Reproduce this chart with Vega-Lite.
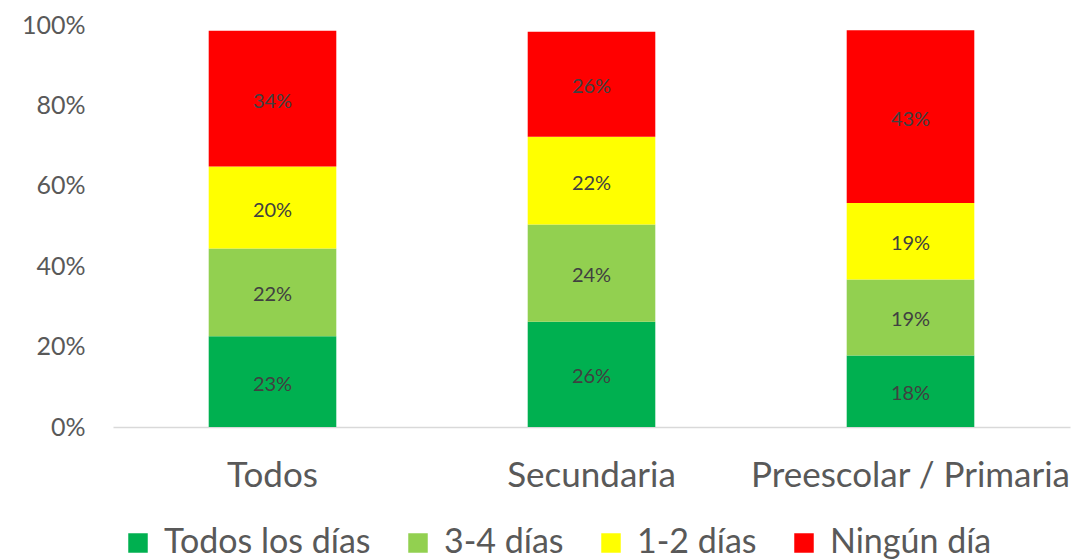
{
  "$schema": "https://vega.github.io/schema/vega-lite/v6.json",
  "width": 957,
  "height": 402,
  "autosize": "none",
  "padding": {"left": 113, "top": 25, "right": 4, "bottom": 133},
  "background": "white",
  "config": {
    "view": {"stroke": null},
    "font": "Lato"
  },
  "data": {
    "values": [
      {"grupo": "Todos", "categoria": "Todos los días", "orden": 1, "valor": 0.226},
      {"grupo": "Todos", "categoria": "3-4 días", "orden": 2, "valor": 0.218},
      {"grupo": "Todos", "categoria": "1-2 días", "orden": 3, "valor": 0.204},
      {"grupo": "Todos", "categoria": "Ningún día", "orden": 4, "valor": 0.338},
      {"grupo": "Secundaria", "categoria": "Todos los días", "orden": 1, "valor": 0.262},
      {"grupo": "Secundaria", "categoria": "3-4 días", "orden": 2, "valor": 0.242},
      {"grupo": "Secundaria", "categoria": "1-2 días", "orden": 3, "valor": 0.218},
      {"grupo": "Secundaria", "categoria": "Ningún día", "orden": 4, "valor": 0.261},
      {"grupo": "Preescolar / Primaria", "categoria": "Todos los días", "orden": 1, "valor": 0.178},
      {"grupo": "Preescolar / Primaria", "categoria": "3-4 días", "orden": 2, "valor": 0.189},
      {"grupo": "Preescolar / Primaria", "categoria": "1-2 días", "orden": 3, "valor": 0.190},
      {"grupo": "Preescolar / Primaria", "categoria": "Ningún día", "orden": 4, "valor": 0.430}
    ]
  },
  "transform": [
    {"stack": "valor", "groupby": ["grupo"], "sort": [{"field": "orden", "order": "ascending"}], "as": ["v0", "v1"]},
    {"calculate": "(datum.v0 + datum.v1) / 2", "as": "vm"}
  ],
  "encoding": {
    "x": {
      "field": "grupo",
      "type": "nominal",
      "sort": ["Todos", "Secundaria", "Preescolar / Primaria"],
      "scale": {"paddingInner": 0.6, "paddingOuter": 0.3},
      "axis": {
        "title": null,
        "labelAngle": 0,
        "labelFontSize": 35,
        "labelColor": "#595959",
        "labelPadding": 31,
        "labelLimit": 500,
        "ticks": false,
        "domainColor": "#D9D9D9",
        "domainWidth": 1.5,
        "grid": false
      }
    }
  },
  "layer": [
    {
      "mark": {"type": "bar"},
      "encoding": {
        "y": {
          "field": "v0",
          "type": "quantitative",
          "scale": {"domain": [0, 1], "nice": false},
          "axis": {
            "title": null,
            "format": ".0%",
            "values": [0, 0.2, 0.4, 0.6, 0.8, 1],
            "labelFontSize": 25,
            "labelColor": "#595959",
            "labelPadding": 28,
            "ticks": false,
            "domain": false,
            "grid": false
          }
        },
        "y2": {"field": "v1"},
        "color": {
          "field": "categoria",
          "type": "nominal",
          "scale": {
            "domain": ["Todos los días", "3-4 días", "1-2 días", "Ningún día"],
            "range": ["#00B050", "#92D050", "#FFFF00", "#FF0000"]
          },
          "legend": {
            "title": null,
            "orient": "none",
            "direction": "horizontal",
            "legendX": 8,
            "legendY": 501,
            "symbolType": "square",
            "symbolSize": 380,
            "symbolStrokeWidth": 0,
            "labelFontSize": 34,
            "labelColor": "#595959",
            "labelOffset": 9,
            "columnPadding": 30,
            "labelLimit": 400
          }
        }
      }
    },
    {
      "mark": {"type": "text", "fontSize": 20, "color": "#404040", "baseline": "middle", "dy": 3},
      "encoding": {
        "y": {"field": "vm", "type": "quantitative"},
        "text": {"field": "valor", "type": "quantitative", "format": ".0%"}
      }
    }
  ]
}
